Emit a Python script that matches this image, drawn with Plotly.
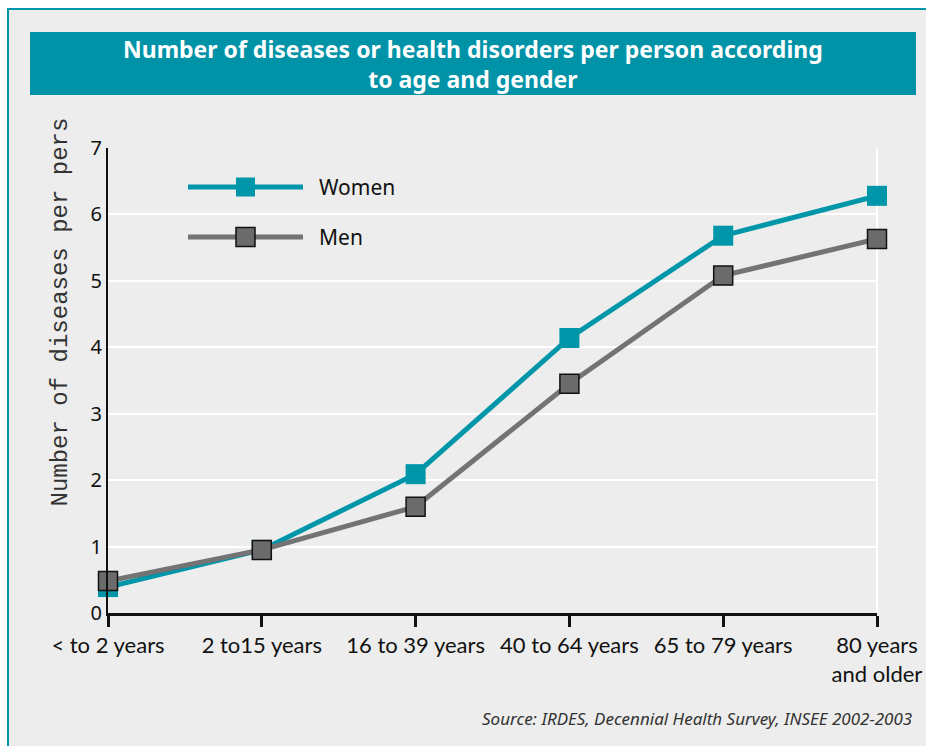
import plotly.graph_objects as go

categories = ["< to 2 years", "2 to15 years", "16 to 39 years", "40 to 64 years", "65 to 79 years", "80 years<br>and older"]
women = [0.39, 0.95, 2.09, 4.14, 5.68, 6.28]
men = [0.48, 0.95, 1.60, 3.45, 5.08, 5.63]
y_ticks = [0, 1, 2, 3, 4, 5, 6, 7]

TEAL = "#0096a9"
GRAY = "#737373"
BG = "#ecedec"

W, H = 926, 746
L, R, T, B = 108, 877, 148, 613

def px(x):
    return (x - L) / (R - L)

def py(y):
    return (B - y) / (B - T)

xs = list(range(len(categories)))

fig = go.Figure()
fig.add_trace(go.Scatter(x=xs, y=women, mode="lines+markers", name="Women",
                         line=dict(color=TEAL, width=5),
                         marker=dict(symbol="square", size=20, color=TEAL, line=dict(color=TEAL, width=0)),
                         cliponaxis=False, showlegend=False))
fig.add_trace(go.Scatter(x=xs, y=men, mode="lines+markers", name="Men",
                         line=dict(color=GRAY, width=5),
                         marker=dict(symbol="square", size=19, color="#6b6b6b", line=dict(color="#111111", width=1.5)),
                         cliponaxis=False, showlegend=False))

shapes = []
# outer frame
shapes.append(dict(type="rect", xref="paper", yref="paper", x0=px(8), x1=px(960), y0=py(780), y1=py(9),
                   fillcolor=BG, line=dict(color=TEAL, width=2), layer="below"))
# title bar
shapes.append(dict(type="rect", xref="paper", yref="paper", x0=px(30), x1=px(916), y0=py(95), y1=py(32),
                   fillcolor="#0093a8", line=dict(width=0), layer="below"))
# right white border of plot
shapes.append(dict(type="line", xref="paper", yref="paper", x0=1, x1=1, y0=0, y1=1,
                   line=dict(color="white", width=2), layer="below"))
# legend
for yy, col, mcol, bcol in [(187, TEAL, TEAL, TEAL), (237, GRAY, "#6b6b6b", "#111111")]:
    shapes.append(dict(type="line", xref="paper", yref="paper", x0=px(188), x1=px(303), y0=py(yy), y1=py(yy),
                       line=dict(color=col, width=5)))
    shapes.append(dict(type="rect", xref="paper", yref="paper", x0=px(236), x1=px(255), y0=py(yy + 9.5), y1=py(yy - 9.5),
                       fillcolor=mcol, line=dict(color=bcol, width=1.5 if bcol != mcol else 0)))

annotations = [
    dict(text="<b>Number of diseases or health disorders per person according<br>to age and gender</b>",
         xref="paper", yref="paper", x=px(473), y=py(64), xanchor="center", yanchor="middle",
         showarrow=False, font=dict(family="Noto Sans", size=23, color="white"), align="center"),
    dict(text="Women", xref="paper", yref="paper", x=px(317), y=py(187), xanchor="left", yanchor="middle",
         showarrow=False, font=dict(family="Noto Sans", size=21, color="#111111")),
    dict(text="Men", xref="paper", yref="paper", x=px(317), y=py(237), xanchor="left", yanchor="middle",
         showarrow=False, font=dict(family="Noto Sans", size=21, color="#111111")),
    dict(text="Number of diseases per pers", xref="paper", yref="paper", x=px(60), y=py(116),
         xanchor="center", yanchor="top", textangle=-90,
         showarrow=False, font=dict(family="Liberation Mono", size=24, color="#333333")),
    dict(text="<i>Source: IRDES, Decennial Health Survey, INSEE 2002-2003</i>", xref="paper", yref="paper",
         x=px(914), y=py(718), xanchor="right", yanchor="middle",
         showarrow=False, font=dict(family="Noto Sans", size=17, color="#333333")),
]

fig.update_layout(
    width=W, height=H, autosize=False,
    margin=dict(l=L, r=W - R, t=T, b=H - B, autoexpand=False),
    paper_bgcolor="white", plot_bgcolor=BG,
    shapes=shapes, annotations=annotations,
    xaxis=dict(range=[0, 5], tickvals=xs, ticktext=categories, showgrid=False, zeroline=False,
               showline=True, linecolor="#111111", linewidth=3, tickangle=0, automargin=False,
               ticks="outside", ticklen=11, tickwidth=3, tickcolor="#111111",
               tickfont=dict(family="Lato", size=22, color="#111111")),
    yaxis=dict(range=[0, 7], tickvals=y_ticks, showgrid=True, gridcolor="white", gridwidth=2,
               zeroline=False, showline=True, linecolor="#111111", linewidth=2, ticks="", automargin=False,
               tickfont=dict(family="Noto Sans", size=20, color="#111111")),
)

fig.write_html("out.html", config={"displayModeBar": False},
               post_script="document.body.style.margin='0';document.body.style.overflow='hidden';")
